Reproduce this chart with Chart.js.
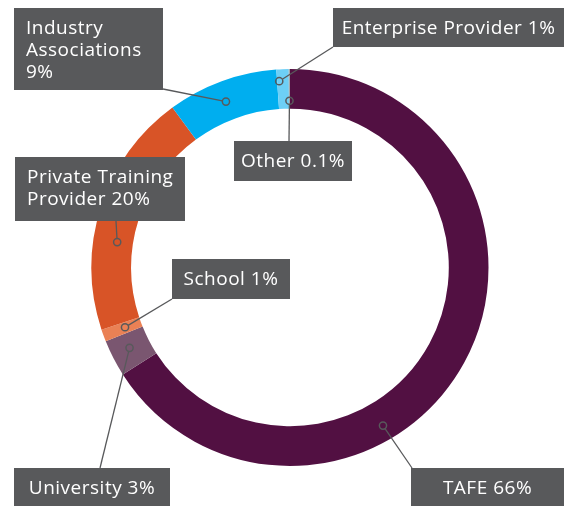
<!DOCTYPE html>
<html>
<head>
<meta charset="utf-8">
<script src="https://cdn.jsdelivr.net/npm/chart.js@4/dist/chart.umd.min.js"></script>
<style>
  html, body { margin: 0; padding: 0; background: #ffffff; }
  #wrap { width: 564px; height: 506px; position: relative; }
</style>
</head>
<body>
<div id="wrap"><canvas id="c" width="564" height="506"></canvas></div>
<script>
// ---- data ----
const categories = ['TAFE', 'University', 'School', 'Private Training Provider', 'Industry Associations', 'Enterprise Provider', 'Other'];
const shares = [66, 3, 1, 20, 9, 1, 0.1];
const colors = ['#521042', '#7a5670', '#ea8155', '#d85427', '#00aeef', '#6dcff6', '#a6a8ab'];

// ---- callout layout (box rect, line end on box, marker placement within arc) ----
const callouts = [
  { box: [411, 468, 153, 40], end: [412, 468], t: 0.63, rf: 0.62, wrap: null, align: 'center' },
  { box: [14, 468, 156, 40], end: [100, 468], t: 0.56, rf: 0.52, wrap: null, align: 'center' },
  { box: [172, 259, 118, 40], end: [172, 299], t: 0.54, rf: 0.42, wrap: null, align: 'center' },
  { box: [15, 157, 170, 64], end: [116, 221], t: 0.37, rf: 0.40, wrap: [2, 2], align: 'left' },
  { box: [14, 8, 149, 82], end: [163, 89], t: 0.47, rf: 0.48, wrap: [1, 1, 1], align: 'left' },
  { box: [333, 8, 231, 39], end: [333, 47], t: 0.18, rf: 0.70, wrap: null, align: 'center' },
  { box: [234, 141, 118, 40], end: [289, 141], t: 0.5, rf: 0.2, wrap: null, align: 'center' }
];

const FONT = '19px "Open Sans", "Liberation Sans", sans-serif';
const INK = '#58595b';

function labelLines(i) {
  const words = (categories[i] + ' ' + shares[i] + '%').split(' ');
  const w = callouts[i].wrap;
  if (!w) return [words.join(' ')];
  const out = []; let k = 0;
  w.forEach(n => { out.push(words.slice(k, k + n).join(' ')); k += n; });
  if (k < words.length) out[out.length - 1] += ' ' + words.slice(k).join(' ');
  return out;
}

const calloutPlugin = {
  id: 'callouts',
  afterDraw(chart) {
    const ctx = chart.ctx;
    const meta = chart.getDatasetMeta(0);
    ctx.save();
    meta.data.forEach((arc, i) => {
      const c = callouts[i];
      const p = arc.getProps(['x', 'y', 'startAngle', 'endAngle', 'innerRadius', 'outerRadius'], true);
      const a = p.startAngle + (p.endAngle - p.startAngle) * c.t;
      const r = p.innerRadius + (p.outerRadius - p.innerRadius) * c.rf;
      const mx = p.x + r * Math.cos(a);
      const my = p.y + r * Math.sin(a);
      ctx.strokeStyle = INK;
      ctx.lineWidth = 1.3;
      const dx = c.end[0] - mx, dy = c.end[1] - my;
      const d = Math.hypot(dx, dy);
      const rad = 3.6;
      ctx.beginPath();
      ctx.moveTo(mx + dx / d * rad, my + dy / d * rad);
      ctx.lineTo(c.end[0], c.end[1]);
      ctx.stroke();
      ctx.lineWidth = 1.5;
      ctx.beginPath();
      ctx.arc(mx, my, rad, 0, Math.PI * 2);
      ctx.stroke();
    });
    meta.data.forEach((arc, i) => {
      const c = callouts[i];
      const [bx, by, bw, bh] = c.box;
      ctx.fillStyle = INK;
      ctx.fillRect(bx, by, bw, bh);
      ctx.fillStyle = '#ffffff';
      ctx.font = FONT;
      if ('letterSpacing' in ctx) ctx.letterSpacing = '0.5px';
      ctx.textBaseline = 'alphabetic';
      const lines = labelLines(i);
      lines.forEach((ln, j) => {
        const y = by + 26 + j * 22;
        if (c.align === 'center') {
          ctx.textAlign = 'center';
          ctx.fillText(ln, bx + bw / 2, y);
        } else {
          ctx.textAlign = 'left';
          ctx.fillText(ln, bx + 12, y);
        }
      });
    });
    ctx.restore();
  }
};

new Chart(document.getElementById('c'), {
  type: 'doughnut',
  data: {
    labels: categories,
    datasets: [{
      data: shares,
      backgroundColor: colors,
      borderWidth: 0,
      hoverOffset: 0
    }]
  },
  options: {
    responsive: false,
    devicePixelRatio: 1,
    animation: false,
    cutout: '80%',
    rotation: 0,
    layout: { padding: { left: 91, right: 75, top: 69, bottom: 40 } },
    plugins: { legend: { display: false }, tooltip: { enabled: false } }
  },
  plugins: [calloutPlugin]
});
</script>
</body>
</html>
